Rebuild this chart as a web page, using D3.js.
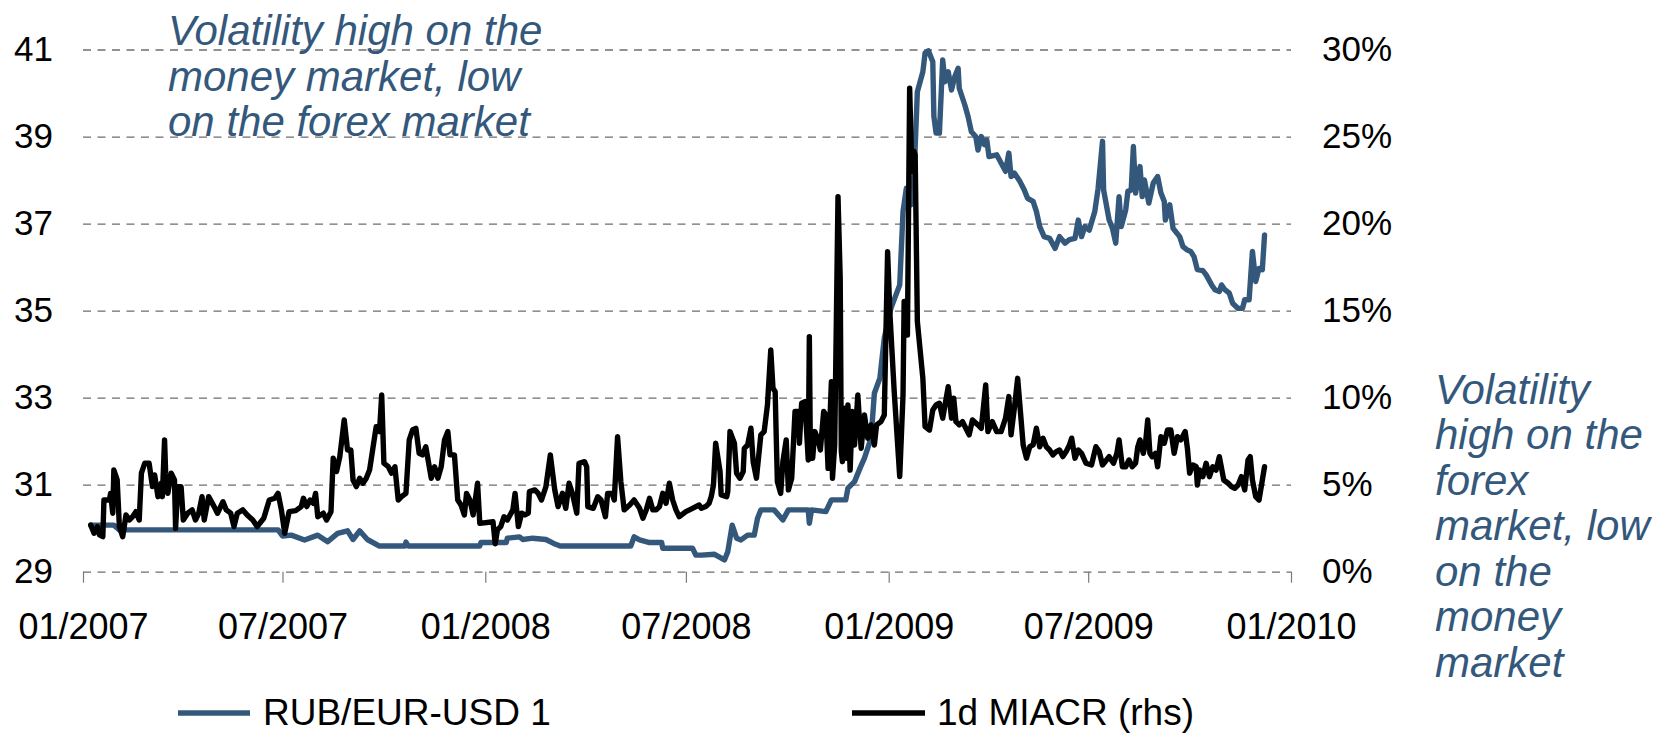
<!DOCTYPE html>
<html>
<head>
<meta charset="utf-8">
<script src="https://cdn.jsdelivr.net/npm/d3@7"></script>
<style>
  html, body { margin: 0; padding: 0; background: #fff; }
  svg { display: block; font-family: "Liberation Sans", Arial, sans-serif; }
</style>
</head>
<body>
<svg id="chart" width="1659" height="734"></svg>
<script>
// ---------- DATA ----------
const seriesNames = ["RUB/EUR-USD 1", "1d MIACR (rhs)"];
const leftTicks = [29, 31, 33, 35, 37, 39, 41];
const rightTicks = [0, 5, 10, 15, 20, 25, 30];
const xTickLabels = ["01/2007", "07/2007", "01/2008", "07/2008", "01/2009", "07/2009", "01/2010"];
const noteTop = ["Volatility high on the", "money market, low", "on the forex market"];
const noteRight = ["Volatility", "high on the", "forex", "market, low", "on the", "money", "market"];

const fxDates = ["2007-01-08","2007-01-29","2007-02-03","2007-06-27","2007-07-01","2007-07-09","2007-07-21","2007-08-02","2007-08-11","2007-08-20","2007-08-29","2007-09-03","2007-09-09","2007-09-16","2007-09-27","2007-10-20","2007-10-21","2007-10-23","2007-12-27","2007-12-28","2008-01-20","2008-01-21","2008-02-01","2008-02-04","2008-02-13","2008-02-25","2008-03-03","2008-03-09","2008-05-12","2008-05-15","2008-05-20","2008-05-29","2008-06-09","2008-06-10","2008-07-07","2008-07-10","2008-07-15","2008-07-27","2008-08-05","2008-08-08","2008-08-12","2008-08-16","2008-08-20","2008-08-26","2008-09-01","2008-09-04","2008-09-07","2008-09-19","2008-09-27","2008-10-02","2008-10-20","2008-10-21","2008-10-23","2008-11-05","2008-11-10","2008-11-23","2008-11-25","2008-12-01","2008-12-06","2008-12-10","2008-12-16","2008-12-19","2008-12-24","2008-12-28","2009-01-03","2009-01-11","2009-01-14","2009-01-17","2009-01-21","2009-01-24","2009-01-27","2009-02-01","2009-02-03","2009-02-06","2009-02-10","2009-02-11","2009-02-13","2009-02-16","2009-02-19","2009-02-21","2009-02-24","2009-02-27","2009-03-02","2009-03-05","2009-03-06","2009-03-11","2009-03-14","2009-03-17","2009-03-21","2009-03-23","2009-03-26","2009-03-29","2009-03-31","2009-04-02","2009-04-09","2009-04-13","2009-04-17","2009-04-20","2009-04-22","2009-04-25","2009-04-30","2009-05-04","2009-05-07","2009-05-12","2009-05-15","2009-05-18","2009-05-22","2009-05-27","2009-06-01","2009-06-05","2009-06-10","2009-06-14","2009-06-19","2009-06-22","2009-06-25","2009-06-28","2009-07-02","2009-07-07","2009-07-10","2009-07-14","2009-07-15","2009-07-20","2009-07-23","2009-07-26","2009-07-29","2009-07-31","2009-08-04","2009-08-06","2009-08-09","2009-08-11","2009-08-13","2009-08-17","2009-08-19","2009-08-21","2009-08-25","2009-08-29","2009-09-02","2009-09-05","2009-09-08","2009-09-09","2009-09-13","2009-09-16","2009-09-22","2009-09-25","2009-09-29","2009-10-02","2009-10-05","2009-10-08","2009-10-13","2009-10-16","2009-10-21","2009-10-24","2009-10-28","2009-10-30","2009-11-02","2009-11-06","2009-11-09","2009-11-14","2009-11-18","2009-11-20","2009-11-24","2009-11-27","2009-11-30","2009-12-03","2009-12-06","2009-12-08"];
const fxValues = [30.07,30.07,29.96,29.96,29.82,29.84,29.73,29.84,29.69,29.88,29.94,29.74,29.94,29.74,29.59,29.59,29.68,29.59,29.59,29.67,29.67,29.77,29.80,29.74,29.77,29.74,29.65,29.59,29.59,29.80,29.73,29.67,29.67,29.54,29.54,29.38,29.38,29.40,29.27,29.46,30.07,29.77,29.73,29.84,29.84,30.23,30.42,30.42,30.19,30.42,30.42,30.11,30.42,30.38,30.65,30.65,30.92,31.07,31.38,31.61,32.07,33.10,33.45,34.37,35.05,35.59,37.28,37.81,37.43,38.12,40.03,40.49,40.92,40.97,40.72,39.46,39.08,39.08,40.76,40.26,40.49,40.07,40.38,40.57,40.11,39.73,39.46,39.11,39.00,38.69,39.00,38.81,38.92,38.54,38.58,38.39,38.20,38.62,38.08,38.16,37.97,37.77,37.58,37.51,37.28,36.93,36.70,36.66,36.43,36.70,36.55,36.63,36.66,37.08,36.70,36.93,36.85,37.28,37.81,38.89,37.77,37.08,36.89,36.55,37.62,36.93,37.31,37.74,37.77,38.77,37.70,38.31,37.62,38.00,37.47,37.93,38.08,37.70,37.51,37.08,37.43,36.89,36.70,36.47,36.39,36.36,36.24,35.94,35.92,35.82,35.59,35.48,35.44,35.59,35.48,35.40,35.17,35.05,35.05,35.25,35.25,36.36,35.67,35.97,35.94,36.74];

const miacrDates = ["2007-01-08","2007-01-11","2007-01-14","2007-01-16","2007-01-19","2007-01-20","2007-01-25","2007-01-26","2007-01-28","2007-01-29","2007-02-01","2007-02-03","2007-02-06","2007-02-07","2007-02-09","2007-02-12","2007-02-15","2007-02-18","2007-02-21","2007-02-23","2007-02-26","2007-03-02","2007-03-05","2007-03-07","2007-03-10","2007-03-13","2007-03-14","2007-03-16","2007-03-17","2007-03-19","2007-03-22","2007-03-25","2007-03-26","2007-03-28","2007-03-31","2007-04-02","2007-04-06","2007-04-10","2007-04-13","2007-04-16","2007-04-19","2007-04-21","2007-04-25","2007-04-30","2007-05-03","2007-05-08","2007-05-11","2007-05-15","2007-05-18","2007-05-21","2007-05-26","2007-05-30","2007-06-04","2007-06-08","2007-06-14","2007-06-19","2007-06-24","2007-06-27","2007-06-30","2007-07-03","2007-07-07","2007-07-13","2007-07-18","2007-07-20","2007-07-23","2007-07-26","2007-07-29","2007-07-31","2007-08-02","2007-08-07","2007-08-10","2007-08-14","2007-08-16","2007-08-19","2007-08-22","2007-08-26","2007-08-29","2007-09-01","2007-09-03","2007-09-06","2007-09-09","2007-09-12","2007-09-15","2007-09-18","2007-09-21","2007-09-24","2007-09-27","2007-09-29","2007-10-01","2007-10-05","2007-10-08","2007-10-11","2007-10-14","2007-10-17","2007-10-21","2007-10-24","2007-10-27","2007-10-30","2007-11-02","2007-11-05","2007-11-08","2007-11-13","2007-11-16","2007-11-19","2007-11-22","2007-11-25","2007-11-28","2007-11-30","2007-12-04","2007-12-07","2007-12-10","2007-12-13","2007-12-15","2007-12-18","2007-12-21","2007-12-25","2007-12-27","2008-01-08","2008-01-10","2008-01-12","2008-01-15","2008-01-18","2008-01-21","2008-01-26","2008-01-28","2008-01-31","2008-02-03","2008-02-06","2008-02-09","2008-02-10","2008-02-15","2008-02-18","2008-02-21","2008-02-25","2008-02-29","2008-03-04","2008-03-07","2008-03-11","2008-03-14","2008-03-17","2008-03-20","2008-03-24","2008-03-26","2008-03-31","2008-04-02","2008-04-03","2008-04-08","2008-04-12","2008-04-15","2008-04-19","2008-04-21","2008-04-25","2008-04-27","2008-04-30","2008-05-03","2008-05-06","2008-05-11","2008-05-15","2008-05-20","2008-05-23","2008-05-26","2008-05-29","2008-06-01","2008-06-04","2008-06-07","2008-06-10","2008-06-13","2008-06-16","2008-06-19","2008-06-22","2008-06-25","2008-07-01","2008-07-07","2008-07-13","2008-07-15","2008-07-19","2008-07-22","2008-07-24","2008-07-26","2008-07-28","2008-08-01","2008-08-02","2008-08-07","2008-08-08","2008-08-10","2008-08-14","2008-08-16","2008-08-19","2008-08-22","2008-08-23","2008-08-26","2008-08-29","2008-08-31","2008-09-03","2008-09-07","2008-09-10","2008-09-13","2008-09-16","2008-09-18","2008-09-20","2008-09-21","2008-09-22","2008-09-25","2008-09-27","2008-09-30","2008-10-02","2008-10-05","2008-10-08","2008-10-11","2008-10-12","2008-10-14","2008-10-17","2008-10-20","2008-10-21","2008-10-22","2008-10-24","2008-10-26","2008-10-29","2008-10-31","2008-11-03","2008-11-05","2008-11-07","2008-11-10","2008-11-11","2008-11-13","2008-11-16","2008-11-18","2008-11-19","2008-11-20","2008-11-22","2008-11-24","2008-11-25","2008-11-27","2008-11-29","2008-12-01","2008-12-04","2008-12-07","2008-12-10","2008-12-13","2008-12-16","2008-12-19","2008-12-21","2008-12-25","2008-12-28","2008-12-31","2009-01-02","2009-01-06","2009-01-11","2009-01-14","2009-01-15","2009-01-17","2009-01-18","2009-01-20","2009-01-22","2009-01-24","2009-01-25","2009-01-27","2009-02-01","2009-02-03","2009-02-07","2009-02-10","2009-02-13","2009-02-16","2009-02-19","2009-02-24","2009-02-27","2009-03-01","2009-03-03","2009-03-06","2009-03-09","2009-03-12","2009-03-15","2009-03-18","2009-03-23","2009-03-26","2009-03-30","2009-04-01","2009-04-05","2009-04-09","2009-04-13","2009-04-17","2009-04-20","2009-04-22","2009-04-25","2009-04-28","2009-05-01","2009-05-03","2009-05-06","2009-05-09","2009-05-12","2009-05-15","2009-05-18","2009-05-21","2009-05-24","2009-05-27","2009-05-30","2009-06-02","2009-06-05","2009-06-08","2009-06-11","2009-06-14","2009-06-16","2009-06-19","2009-06-22","2009-06-25","2009-06-29","2009-07-04","2009-07-08","2009-07-11","2009-07-14","2009-07-20","2009-07-24","2009-07-27","2009-07-29","2009-08-01","2009-08-04","2009-08-07","2009-08-10","2009-08-13","2009-08-15","2009-08-17","2009-08-20","2009-08-22","2009-08-24","2009-08-26","2009-08-28","2009-08-31","2009-09-02","2009-09-05","2009-09-08","2009-09-11","2009-09-14","2009-09-17","2009-09-20","2009-09-23","2009-09-27","2009-09-29","2009-10-01","2009-10-04","2009-10-07","2009-10-08","2009-10-10","2009-10-13","2009-10-16","2009-10-19","2009-10-22","2009-10-25","2009-10-28","2009-11-01","2009-11-05","2009-11-08","2009-11-11","2009-11-14","2009-11-17","2009-11-20","2009-11-23","2009-11-25","2009-11-27","2009-11-30","2009-12-03","2009-12-06","2009-12-08"];
const miacrValues = [2.68,2.21,2.59,2.11,2.01,4.12,4.12,4.50,3.36,5.84,5.27,2.59,2.01,2.40,3.26,2.97,3.16,3.45,2.97,5.66,6.23,6.23,4.89,5.56,4.31,5.08,4.31,7.57,5.66,4.50,5.66,5.27,2.49,4.89,4.89,2.97,3.36,3.55,2.97,3.36,4.31,2.97,4.31,3.74,3.36,4.02,3.55,3.36,2.59,3.36,3.55,3.26,2.97,2.59,3.07,4.12,4.22,4.50,3.55,2.21,3.45,3.51,3.74,4.22,3.74,4.12,3.93,4.50,3.16,3.36,2.97,3.45,6.52,5.75,6.61,8.72,6.99,6.99,5.27,4.89,5.37,5.08,5.37,5.84,7.09,8.33,8.05,10.16,6.23,6.03,5.66,6.03,4.12,4.31,4.50,7.57,8.14,8.24,6.80,6.71,7.18,5.37,6.03,5.37,6.03,7.57,8.05,6.71,6.71,4.12,3.83,3.26,4.50,4.12,3.26,5.08,2.78,2.87,1.60,2.40,2.59,3.16,2.97,3.55,4.50,2.59,3.36,3.26,3.36,4.60,4.70,4.50,4.12,4.89,6.71,4.70,3.74,4.50,3.64,5.08,4.50,3.36,6.23,6.32,6.03,3.74,3.64,4.31,4.12,3.16,4.50,4.50,4.12,7.76,5.17,3.55,3.83,4.12,3.64,3.07,3.55,4.22,3.55,3.55,3.74,4.50,3.93,5.08,4.12,3.55,3.16,3.45,3.64,3.83,3.64,3.74,3.93,4.31,4.98,7.38,5.75,4.41,4.31,4.60,8.05,7.38,5.66,5.37,5.75,7.09,7.28,8.24,6.32,5.37,7.86,8.05,9.58,12.74,10.54,10.34,7.67,5.17,4.50,6.32,7.57,4.70,5.37,9.20,9.20,7.38,9.68,9.77,6.42,13.50,6.52,6.52,8.05,7.57,6.99,9.20,9.00,5.94,10.92,5.37,7.28,21.55,16.86,6.90,6.32,9.39,6.52,9.58,5.84,9.20,7.28,10.16,7.09,9.00,7.67,8.43,7.28,8.43,8.62,9.00,18.39,14.94,10.34,5.46,10.16,15.52,15.52,13.60,27.78,22.99,24.14,23.95,14.37,11.11,8.33,8.14,9.29,9.58,9.68,8.82,10.63,8.82,9.97,8.62,8.43,8.62,8.24,7.86,8.72,8.43,8.24,10.73,8.05,8.62,8.05,8.05,8.82,10.06,7.86,9.39,11.11,8.82,7.28,6.52,7.18,7.28,8.24,7.18,7.67,7.18,6.99,6.71,6.90,6.99,6.61,6.90,7.28,7.67,6.52,6.99,6.80,6.23,6.13,7.18,6.90,6.13,6.61,6.23,6.80,7.57,6.03,6.03,6.42,6.03,6.23,7.18,7.57,6.80,7.38,8.72,6.80,6.61,6.80,6.03,7.76,7.38,8.14,8.14,6.80,7.76,7.57,8.05,7.09,5.66,6.13,6.03,4.98,5.84,5.46,6.23,5.46,6.03,5.84,6.61,5.27,5.08,4.89,4.79,4.98,5.46,4.70,6.42,6.61,5.27,4.31,4.12,5.27,6.03];

// ---------- LAYOUT ----------
const W = 1659, H = 734;
const plot = { left: 83, right: 1291, top: 49.5, bottom: 571.7 };
const blue = "#34587b";
const black = "#000000";
const fontFam = '"Liberation Sans", Arial, sans-serif';

const parse = d3.timeParse("%Y-%m-%d");
const parseTick = d3.timeParse("%m/%Y");
const fxData = fxDates.map((d, i) => ({ date: parse(d), value: fxValues[i] }));
const miacrData = miacrDates.map((d, i) => ({ date: parse(d), value: miacrValues[i] }));
const tickDates = xTickLabels.map(s => parseTick(s));

const x = d3.scaleTime()
  .domain([tickDates[0], tickDates[tickDates.length - 1]])
  .range([plot.left, plot.right]);
const yL = d3.scaleLinear().domain([29, 41]).range([plot.bottom, plot.top]);
const yR = d3.scaleLinear().domain([0, 30]).range([plot.bottom, plot.top]);

const svg = d3.select("#chart");
svg.append("rect").attr("width", W).attr("height", H).attr("fill", "#fff");

// gridlines
const grid = svg.append("g")
  .attr("transform", `translate(${plot.left},0)`)
  .call(d3.axisLeft(yL).tickValues(leftTicks).tickSize(-(plot.right - plot.left)).tickFormat(""));
grid.select(".domain").remove();
grid.selectAll(".tick line")
  .attr("stroke", "#6e6e6e").attr("stroke-width", 1.3).attr("stroke-dasharray", "8,6.5");

// x axis
const xAxis = svg.append("g")
  .attr("transform", `translate(0,${plot.bottom})`)
  .call(d3.axisBottom(x).tickValues(tickDates).tickFormat(d3.timeFormat("%m/%Y")).tickSize(11).tickPadding(31));
xAxis.select(".domain").remove();
xAxis.selectAll(".tick line").attr("stroke", "#7a7a7a").attr("stroke-width", 1.2);
xAxis.selectAll(".tick text")
  .attr("font-family", fontFam).attr("font-size", 36).attr("fill", "#000");

// left axis labels
const lAxis = svg.append("g")
  .attr("transform", `translate(${plot.left},0)`)
  .call(d3.axisLeft(yL).tickValues(leftTicks).tickSize(0).tickPadding(30).tickFormat(d3.format("d")));
lAxis.select(".domain").remove();
lAxis.selectAll(".tick text")
  .attr("font-family", fontFam).attr("font-size", 35).attr("fill", "#000");

// right axis labels
const rAxis = svg.append("g")
  .attr("transform", `translate(${plot.right},0)`)
  .call(d3.axisRight(yR).tickValues(rightTicks).tickSize(0).tickPadding(31).tickFormat(d => d + "%"));
rAxis.select(".domain").remove();
rAxis.selectAll(".tick text")
  .attr("font-family", fontFam).attr("font-size", 35).attr("fill", "#000");

// lines
const lineL = d3.line().x(d => x(d.date)).y(d => yL(d.value));
const lineR = d3.line().x(d => x(d.date)).y(d => yR(d.value));

svg.append("path").datum(fxData)
  .attr("d", lineL).attr("fill", "none")
  .attr("stroke", blue).attr("stroke-width", 5.4)
  .attr("stroke-linejoin", "round").attr("stroke-linecap", "round");

svg.append("path").datum(miacrData)
  .attr("d", lineR).attr("fill", "none")
  .attr("stroke", black).attr("stroke-width", 5.4)
  .attr("stroke-linejoin", "round").attr("stroke-linecap", "round");

// annotations
const t1 = svg.append("text")
  .attr("font-family", fontFam).attr("font-size", 42).attr("font-style", "italic")
  .attr("fill", blue);
noteTop.forEach((s, i) => {
  t1.append("tspan").attr("x", 168).attr("y", 45 + i * 45.5).text(s);
});
const t2 = svg.append("text")
  .attr("font-family", fontFam).attr("font-size", 42).attr("font-style", "italic")
  .attr("fill", blue);
noteRight.forEach((s, i) => {
  t2.append("tspan").attr("x", 1435).attr("y", 403.5 + i * 45.5).text(s);
});

// legend
const legendItems = [
  { name: seriesNames[0], color: blue, x1: 178, x2: 250, tx: 263 },
  { name: seriesNames[1], color: black, x1: 852, x2: 925, tx: 937 }
];
const lg = svg.append("g");
legendItems.forEach(it => {
  lg.append("line").attr("x1", it.x1).attr("x2", it.x2).attr("y1", 713).attr("y2", 713)
    .attr("stroke", it.color).attr("stroke-width", 5.5);
  lg.append("text").attr("x", it.tx).attr("y", 725)
    .attr("font-family", fontFam).attr("font-size", 37).attr("fill", "#000").text(it.name);
});
</script>
</body>
</html>
